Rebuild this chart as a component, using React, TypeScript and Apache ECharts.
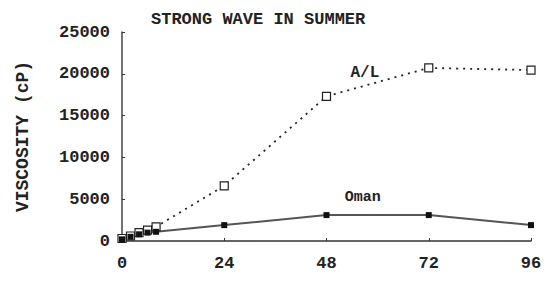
import React, { useEffect, useRef } from "react";
import * as echarts from "echarts";

const title = "STRONG WAVE IN SUMMER";
const yAxisName = "VISCOSITY (cP)";
const xTicks = [0, 24, 48, 72, 96];
const hours = [0, 2, 4, 6, 8, 24, 48, 72, 96];
const alValues = [300, 600, 1000, 1300, 1700, 6600, 17300, 20700, 20450];
const omanValues = [200, 500, 800, 1000, 1100, 1900, 3100, 3100, 1900];
const labelAL = "A/L";
const labelOman = "Oman";

const FONT = "Liberation Mono";

export default function App() {
  const ref = useRef<HTMLDivElement>(null);
  useEffect(() => {
    if (!ref.current) return;
    const chart = echarts.init(ref.current, undefined, { renderer: "svg" });
    chart.setOption({
      animation: false,
      backgroundColor: "#fff",
      title: {
        text: title,
        left: 146,
        top: 6,
        textStyle: { fontFamily: FONT, fontSize: 17, fontWeight: "bold", color: "#222" },
      },
      grid: { left: 122, right: 24, top: 32, bottom: 48 },
      xAxis: {
        type: "value",
        min: 0,
        max: 96,
        interval: 24,
        axisLine: { show: true, lineStyle: { color: "#333", width: 1.5 } },
        axisTick: { show: true, inside: true, length: 3, lineStyle: { color: "#333" } },
        splitLine: { show: false },
        axisLabel: {
          fontFamily: FONT,
          fontSize: 17,
          fontWeight: "bold",
          color: "#222",
          margin: 14,
          formatter: (v: number) => (xTicks.includes(v) ? String(v) : ""),
        },
      },
      yAxis: {
        type: "value",
        min: 0,
        max: 25000,
        interval: 5000,
        name: yAxisName,
        nameLocation: "middle",
        nameGap: 90,
        nameTextStyle: { fontFamily: FONT, fontSize: 18, fontWeight: "bold", color: "#222" },
        axisLine: { show: true, lineStyle: { color: "#444", width: 1.5 } },
        axisTick: { show: true, inside: true, length: 3, lineStyle: { color: "#333" } },
        splitLine: { show: false },
        axisLabel: {
          fontFamily: FONT,
          fontSize: 17,
          fontWeight: "bold",
          color: "#222",
          margin: 12,
          formatter: (v: number) => String(v),
        },
      },
      series: [
        {
          name: labelAL,
          type: "line",
          data: hours.map((h, i) => [h, alValues[i]]),
          symbol: "rect",
          symbolSize: 8,
          showAllSymbol: true,
          itemStyle: { color: "#fff", borderColor: "#222", borderWidth: 1.2 },
          lineStyle: { color: "#222", width: 1.8, type: [2, 5] },
          markPoint: {
            symbol: "circle",
            symbolSize: 1,
            itemStyle: { color: "rgba(0,0,0,0)" },
            label: { show: true, position: "inside", formatter: labelAL, fontFamily: FONT, fontSize: 16, fontWeight: "bold", color: "#222" },
            data: [{ coord: [57, 20100] }],
          },
        },
        {
          name: labelOman,
          type: "line",
          data: hours.map((h, i) => [h, omanValues[i]]),
          symbol: "rect",
          symbolSize: 6,
          showAllSymbol: true,
          itemStyle: { color: "#111" },
          lineStyle: { color: "#555", width: 2 },
          markPoint: {
            symbol: "circle",
            symbolSize: 1,
            itemStyle: { color: "rgba(0,0,0,0)" },
            label: { show: true, position: "inside", formatter: labelOman, fontFamily: FONT, fontSize: 15, fontWeight: "bold", color: "#222" },
            data: [{ coord: [56.5, 5200] }],
          },
        },
      ],
    });
    return () => chart.dispose();
  }, []);
  return <div ref={ref} style={{ width: 555, height: 289, position: "absolute", left: 0, top: 0 }} />;
}
